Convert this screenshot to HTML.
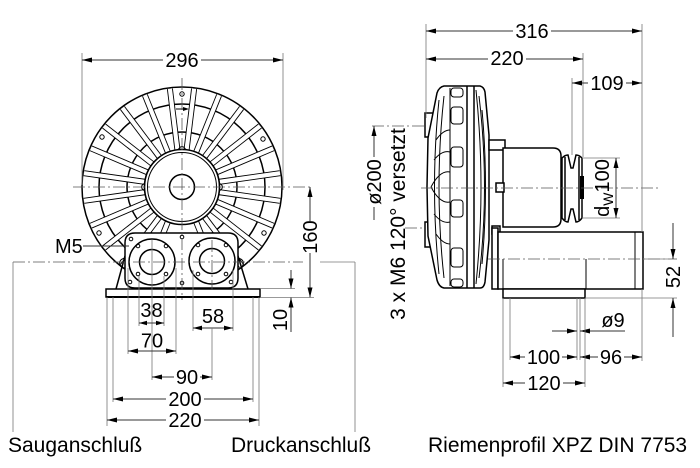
<!DOCTYPE html>
<html><head><meta charset="utf-8">
<style>
html,body{margin:0;padding:0;background:#fff;}
svg{display:block;}
.o{stroke:#000;stroke-width:1.5;fill:none}
.f{stroke:#000;stroke-width:1.5;fill:#fff}
.t{stroke:#000;stroke-width:1;fill:none}
.d{stroke:#333;stroke-width:1;fill:none}
.e{stroke:#777;stroke-width:0.8;fill:none}
.c{stroke:#555;stroke-width:0.8;stroke-dasharray:12 3 2 3;fill:none}
.a{fill:#000;stroke:none}
text{font-family:"Liberation Sans",Arial,sans-serif;font-size:20px;fill:#000}
.lb{font-size:21px}
</style></head>
<body>
<svg width="700" height="468" viewBox="0 0 700 468" xmlns="http://www.w3.org/2000/svg">
<defs>
<g id="ribs">
<line x1="218.6" y1="181.9" x2="280" y2="173.2"/>
<line x1="216.1" y1="172.5" x2="273.2" y2="148.3"/>
<line x1="211.2" y1="164.2" x2="260" y2="126"/>
<line x1="204.3" y1="157.4" x2="241.6" y2="107.9"/>
<line x1="195.9" y1="152.7" x2="219.1" y2="95.2"/>
<line x1="186.5" y1="150.3" x2="194.1" y2="88.7"/>
<line x1="177.5" y1="150.3" x2="169.9" y2="88.7"/>
<line x1="168.1" y1="152.7" x2="144.9" y2="95.2"/>
<line x1="159.7" y1="157.4" x2="122.4" y2="107.9"/>
<line x1="152.8" y1="164.2" x2="104" y2="126"/>
<line x1="147.9" y1="172.5" x2="90.8" y2="148.3"/>
<line x1="145.4" y1="181.9" x2="84" y2="173.2"/>
<line x1="145.4" y1="192.1" x2="84" y2="200.8"/>
<line x1="147.9" y1="201.5" x2="90.8" y2="225.7"/>
<line x1="152.8" y1="209.8" x2="104" y2="248"/>
<line x1="159.7" y1="216.6" x2="122.4" y2="266.1"/>
<line x1="168.1" y1="221.3" x2="144.9" y2="278.8"/>
<line x1="218.6" y1="192.1" x2="280" y2="200.8"/>
<line x1="216.1" y1="201.5" x2="273.2" y2="225.7"/>
<line x1="211.2" y1="209.8" x2="260" y2="248"/>
<line x1="204.3" y1="216.6" x2="241.6" y2="266.1"/>
<line x1="195.9" y1="221.3" x2="219.1" y2="278.8"/>
</g>
</defs>

<!-- ================= LEFT VIEW ================= -->
<circle cx="182" cy="187" r="100" fill="#fff"/>
<circle cx="182" cy="187" r="83" class="o" stroke-width="1.1"/>
<circle cx="182" cy="187" r="55" class="o" stroke-width="1.1"/>
<use href="#ribs" stroke="#000" stroke-width="6"/>
<use href="#ribs" stroke="#fff" stroke-width="4.2"/>
<circle cx="182" cy="187" r="37.5" fill="#fff" stroke="#000" stroke-width="1.6"/>
<circle cx="182" cy="187" r="34.5" class="t"/>
<circle cx="182" cy="187" r="12.5" class="o" stroke-width="1.3"/>
<circle cx="182" cy="187" r="100" class="o" stroke-width="1.8"/>
<!-- notches -->
<path d="M145,183 Q138,187 145,191" class="t"/>
<path d="M219,183 Q226,187 219,191" class="t"/>
<path d="M178,150 Q182,143 186,150" class="t"/>
<!-- bolt holes -->
<g class="t">
<circle cx="182" cy="94" r="2.2"/>
<circle cx="102" cy="137" r="2.2"/>
<circle cx="263" cy="139" r="2.2"/>
<circle cx="99" cy="233" r="2.2"/>
<circle cx="264" cy="233" r="2.2"/>
</g>
<!-- rotation arrow -->
<line x1="176" y1="109" x2="186" y2="109" class="t"/>
<polygon points="189,109 183,107 183,111" class="a"/>

<!-- feet & base -->
<path d="M125,256 L116,289" class="o"/>
<path d="M238,256 L248,289" class="o"/>
<path d="M125,258 Q117,260 121,267" class="t"/>
<path d="M238,258 Q246,260 242,267" class="t"/>
<rect x="106" y="289" width="154" height="8" class="f"/>
<line x1="106" y1="297" x2="260" y2="297" stroke="#000" stroke-width="2"/>
<!-- port block -->
<path d="M135,233 L228,233 Q238,233 238,243 L238,278 Q238,288 228,288 L135,288 Q125,288 125,278 L125,243 Q125,233 135,233 Z" class="f" stroke-width="1.6"/>
<circle cx="152" cy="262" r="23" class="o" stroke-width="1.2"/>
<circle cx="152" cy="262" r="12.5" class="o" stroke-width="1.3"/>
<circle cx="212" cy="261" r="23" class="o" stroke-width="1.2"/>
<circle cx="212" cy="261" r="12.5" class="o" stroke-width="1.3"/>
<g class="t">
<circle cx="138" cy="246" r="1.8"/><circle cx="166" cy="246" r="1.8"/>
<circle cx="138" cy="274" r="1.8"/><circle cx="166" cy="274" r="1.8"/>
<circle cx="198" cy="245" r="1.8"/><circle cx="226" cy="245" r="1.8"/>
<circle cx="198" cy="274" r="1.8"/><circle cx="226" cy="274" r="1.8"/>
<circle cx="131" cy="239" r="1.8"/><circle cx="130" cy="282" r="1.8"/>
<circle cx="231" cy="282" r="1.8"/>
<circle cx="182" cy="237" r="1.8"/><circle cx="182" cy="283" r="1.8"/>
</g>

<!-- centerlines -->
<line x1="182" y1="78" x2="182" y2="300" class="c"/>
<line x1="73" y1="187" x2="313" y2="187" class="c"/>
<line x1="13" y1="262" x2="303" y2="262" class="c"/>
<line x1="320" y1="262" x2="355" y2="262" class="e"/>
<line x1="152" y1="240" x2="152" y2="380" class="e"/>
<line x1="212" y1="240" x2="212" y2="290" class="c"/>

<!-- leaders for labels -->
<line x1="13" y1="262" x2="13" y2="432" class="e"/>
<line x1="355" y1="262" x2="355" y2="432" class="e"/>

<!-- 296 -->
<line x1="82" y1="53" x2="82" y2="185" class="e"/>
<line x1="283" y1="53" x2="283" y2="190" class="e"/>
<line x1="82" y1="60" x2="163" y2="60" class="d"/>
<line x1="201" y1="60" x2="283" y2="60" class="d"/>
<polygon points="82,60 92,57.5 92,62.5" class="a"/>
<polygon points="283,60 273,57.5 273,62.5" class="a"/>
<text x="182" y="67" text-anchor="middle">296</text>

<!-- M5 -->
<text x="55" y="253">M5</text>
<line x1="83" y1="246" x2="129" y2="246" class="d"/>

<!-- 160 -->
<line x1="310" y1="187" x2="310" y2="221" class="d"/>
<line x1="310" y1="253" x2="310" y2="297.5" class="d"/>
<polygon points="310,187 307.5,197 312.5,197" class="a"/>
<polygon points="310,297.5 307.5,287.5 312.5,287.5" class="a"/>
<line x1="260" y1="297.5" x2="314" y2="297.5" class="e"/>
<text transform="translate(317,237) rotate(-90)" text-anchor="middle">160</text>

<!-- 10 -->
<line x1="260" y1="288.5" x2="295" y2="288.5" class="e"/>
<line x1="291" y1="270" x2="291" y2="288.5" class="d"/>
<line x1="291" y1="297.5" x2="291" y2="332" class="d"/>
<polygon points="291,288.5 288.5,278.5 293.5,278.5" class="a"/>
<polygon points="291,297.5 288.5,307.5 293.5,307.5" class="a"/>
<text transform="translate(287,320) rotate(-90)" text-anchor="middle">10</text>

<!-- 38 -->
<line x1="139" y1="276" x2="139" y2="326" class="e"/>
<line x1="164" y1="276" x2="164" y2="326" class="e"/>
<line x1="139" y1="323" x2="164" y2="323" class="d"/>
<polygon points="139,323 147,320.8 147,325.2" class="a"/>
<polygon points="164,323 156,320.8 156,325.2" class="a"/>
<text x="151.5" y="317" text-anchor="middle">38</text>

<!-- 58 -->
<line x1="193" y1="270" x2="193" y2="331" class="e"/>
<line x1="233" y1="270" x2="233" y2="331" class="e"/>
<line x1="193" y1="328" x2="233" y2="328" class="d"/>
<polygon points="193,328 202,325.6 202,330.4" class="a"/>
<polygon points="233,328 224,325.6 224,330.4" class="a"/>
<text x="213" y="323" text-anchor="middle">58</text>

<!-- 70 -->
<line x1="128" y1="268" x2="128" y2="354" class="e"/>
<line x1="176" y1="268" x2="176" y2="354" class="e"/>
<line x1="128" y1="351" x2="176" y2="351" class="d"/>
<polygon points="128,351 138,348.5 138,353.5" class="a"/>
<polygon points="176,351 166,348.5 166,353.5" class="a"/>
<text x="152" y="347.5" text-anchor="middle">70</text>

<!-- 90 -->
<line x1="212" y1="328" x2="212" y2="380" class="e"/>
<line x1="152" y1="377" x2="174" y2="377" class="d"/>
<line x1="200" y1="377" x2="212" y2="377" class="d"/>
<polygon points="152,377 162,374.5 162,379.5" class="a"/>
<polygon points="212,377 202,374.5 202,379.5" class="a"/>
<text x="187" y="384" text-anchor="middle">90</text>

<!-- 200 -->
<line x1="113" y1="297" x2="113" y2="402" class="e"/>
<line x1="253" y1="297" x2="253" y2="402" class="e"/>
<line x1="113" y1="399" x2="166" y2="399" class="d"/>
<line x1="204" y1="399" x2="253" y2="399" class="d"/>
<polygon points="113,399 123,396.5 123,401.5" class="a"/>
<polygon points="253,399 243,396.5 243,401.5" class="a"/>
<text x="185" y="406" text-anchor="middle">200</text>

<!-- 220 -->
<line x1="107" y1="297" x2="107" y2="426" class="e"/>
<line x1="259" y1="297" x2="259" y2="426" class="e"/>
<line x1="107" y1="420" x2="166" y2="420" class="d"/>
<line x1="204" y1="420" x2="259" y2="420" class="d"/>
<polygon points="107,420 117,417.5 117,422.5" class="a"/>
<polygon points="259,420 249,417.5 249,422.5" class="a"/>
<text x="185" y="427" text-anchor="middle">220</text>

<text x="8" y="452" class="lb">Sauganschluß</text>
<text x="231" y="452" class="lb">Druckanschluß</text>

<!-- ================= SIDE VIEW ================= -->
<!-- centerlines -->
<line x1="372" y1="126" x2="432" y2="126" class="c"/>
<line x1="405" y1="228" x2="432" y2="228" class="c"/>

<!-- bosses -->
<rect x="425" y="113" width="9" height="24" class="f" stroke-width="1.4"/>
<rect x="425" y="222" width="9" height="25" class="f" stroke-width="1.4"/>

<!-- housing -->
<path d="M444,86 L480,86 Q484,87 485,92 L489,135 L489,240 L485,282 Q484,288 480,288 L444,288 Q439,287 437,280 L428,236 L427,187 L428,138 L437,93 Q439,87 444,86 Z" class="f" stroke-width="1.7"/>
<line x1="450" y1="88" x2="450" y2="286" class="t"/>
<line x1="467" y1="86" x2="467" y2="288" class="o" stroke-width="1.3"/>
<line x1="474" y1="86" x2="474" y2="288" class="o" stroke-width="1.3"/>
<g class="t">
<rect x="451" y="88" width="12" height="9" rx="3"/>
<rect x="451" y="107" width="12" height="17" rx="3"/>
<rect x="451" y="147" width="12" height="20" rx="3"/>
<rect x="451" y="200" width="12" height="17" rx="3"/>
<rect x="451" y="248" width="12" height="19" rx="3"/>
<rect x="451" y="279" width="12" height="8" rx="3"/>
<path d="M439,100 Q430,187 439,274"/>
<path d="M444,96 Q434,187 444,278"/>
<path d="M431,187 Q440,170 450,172"/>
<path d="M431,187 Q440,204 450,202"/>
<path d="M434,160 Q442,150 450,152"/>
<path d="M434,214 Q442,224 450,222"/>
<path d="M436,140 Q443,130 450,130"/>
<path d="M436,234 Q443,244 450,244"/>
<path d="M476,90 Q486,187 476,284"/>
<path d="M479,96 Q490,187 479,278"/>
<path d="M482,110 Q489,187 482,264"/>
</g>

<!-- motor -->
<rect x="489" y="140" width="16" height="10" class="f" stroke-width="1.3"/>
<rect x="492" y="226" width="8" height="8" class="f" stroke-width="1.2"/>
<path d="M503,148 L553,148 Q561,148 561,156 L561,219 Q561,227 553,227 L503,227 Z" class="f"/>
<rect x="496" y="183" width="8" height="9" class="f" stroke-width="1.2"/>

<!-- pulley -->
<path d="M562,158 Q565,155 568,155 L571,168 L573,168 L576,155 Q579,155 582,158 L582,218 Q579,222 576,222 L573,209 L571,209 L568,222 Q565,222 562,218 Z" class="f" stroke-width="1.8"/>
<line x1="565" y1="157" x2="565" y2="220" class="o" stroke-width="1.5"/>
<line x1="579" y1="157" x2="579" y2="220" class="o" stroke-width="1.5"/>
<rect x="580" y="176" width="4" height="23" fill="#000"/>

<!-- shaft centerline -->
<line x1="421" y1="188" x2="660" y2="188" class="c"/>

<!-- pipe & base -->
<rect x="492" y="228" width="6" height="61" class="f" stroke-width="1.3"/>
<rect x="498" y="232" width="145" height="57" class="f" stroke-width="1.7"/>
<line x1="635" y1="232" x2="635" y2="289" class="t"/>
<rect x="503" y="289" width="82" height="9" class="f" stroke-width="1.4"/>
<line x1="503" y1="259" x2="503" y2="289" class="t"/>
<line x1="586" y1="259" x2="586" y2="289" class="t"/>
<line x1="488" y1="259" x2="677" y2="259" class="c"/>

<!-- 316 -->
<line x1="426" y1="24" x2="426" y2="118" class="e"/>
<line x1="642" y1="24" x2="642" y2="232" class="e"/>
<line x1="426" y1="31" x2="513" y2="31" class="d"/>
<line x1="551" y1="31" x2="642" y2="31" class="d"/>
<polygon points="426,31 436,28.5 436,33.5" class="a"/>
<polygon points="642,31 632,28.5 632,33.5" class="a"/>
<text x="532" y="38" text-anchor="middle">316</text>

<!-- 220 side -->
<line x1="583" y1="53" x2="583" y2="157" class="e"/>
<line x1="426" y1="59" x2="488" y2="59" class="d"/>
<line x1="526" y1="59" x2="583" y2="59" class="d"/>
<polygon points="426,59 436,56.5 436,61.5" class="a"/>
<polygon points="583,59 573,56.5 573,61.5" class="a"/>
<text x="507" y="65" text-anchor="middle">220</text>

<!-- 109 -->
<line x1="572" y1="78" x2="572" y2="155" class="e"/>
<line x1="572" y1="83" x2="588" y2="83" class="d"/>
<line x1="626" y1="83" x2="642" y2="83" class="d"/>
<polygon points="572,83 582,80.5 582,85.5" class="a"/>
<polygon points="642,83 632,80.5 632,85.5" class="a"/>
<text x="607" y="90" text-anchor="middle">109</text>

<!-- dw100 -->
<line x1="582" y1="158" x2="620" y2="158" class="e"/>
<line x1="582" y1="218" x2="620" y2="218" class="e"/>
<line x1="616" y1="158" x2="616" y2="218" class="d"/>
<polygon points="616,158 613.5,168 618.5,168" class="a"/>
<polygon points="616,218 613.5,208 618.5,208" class="a"/>
<text transform="translate(609,188) rotate(-90)" text-anchor="middle">d<tspan font-size="14" dy="4">W</tspan><tspan dy="-4">100</tspan></text>

<!-- ø200 / 3 x M6 -->
<line x1="374" y1="126" x2="374" y2="157" class="d"/>
<line x1="374" y1="207" x2="374" y2="220" class="d"/>
<polygon points="374,126 371.5,136 376.5,136" class="a"/>
<text transform="translate(381,182) rotate(-90)" text-anchor="middle">ø200</text>
<text transform="translate(405,224) rotate(-90)" text-anchor="middle" class="lb">3 x M6 120° versetzt</text>

<!-- 52 -->
<line x1="643" y1="259" x2="677" y2="259" class="e"/>
<line x1="585" y1="298" x2="677" y2="298" class="e"/>
<line x1="673" y1="223" x2="673" y2="259" class="d"/>
<line x1="673" y1="298" x2="673" y2="337" class="d"/>
<polygon points="673,259 670.5,249 675.5,249" class="a"/>
<polygon points="673,298 670.5,308 675.5,308" class="a"/>
<text transform="translate(680,277) rotate(-90)" text-anchor="middle">52</text>

<!-- ø9 -->
<line x1="577" y1="298" x2="577" y2="360" class="e"/>
<line x1="580" y1="298" x2="580" y2="360" class="e"/>
<line x1="552" y1="331" x2="577" y2="331" class="d"/>
<line x1="580" y1="331" x2="625" y2="331" class="d"/>
<polygon points="577,331 567,328.5 567,333.5" class="a"/>
<polygon points="580,331 590,328.5 590,333.5" class="a"/>
<text x="613" y="327" text-anchor="middle">ø9</text>

<!-- 100 / 96 -->
<line x1="510" y1="298" x2="510" y2="360" class="e"/>
<line x1="642" y1="289" x2="642" y2="361" class="e"/>
<line x1="510" y1="357" x2="525" y2="357" class="d"/>
<line x1="562" y1="357" x2="577" y2="357" class="d"/>
<polygon points="510,357 520,354.5 520,359.5" class="a"/>
<polygon points="577,357 567,354.5 567,359.5" class="a"/>
<text x="543.5" y="364" text-anchor="middle">100</text>
<line x1="580" y1="357" x2="598" y2="357" class="d"/>
<line x1="624" y1="357" x2="642" y2="357" class="d"/>
<polygon points="580,357 590,354.5 590,359.5" class="a"/>
<polygon points="642,357 632,354.5 632,359.5" class="a"/>
<text x="611" y="364" text-anchor="middle">96</text>

<!-- 120 -->
<line x1="503" y1="298" x2="503" y2="387" class="e"/>
<line x1="585" y1="298" x2="585" y2="387" class="e"/>
<line x1="503" y1="383" x2="525" y2="383" class="d"/>
<line x1="563" y1="383" x2="585" y2="383" class="d"/>
<polygon points="503,383 513,380.5 513,385.5" class="a"/>
<polygon points="585,383 575,380.5 575,385.5" class="a"/>
<text x="544" y="390" text-anchor="middle">120</text>

<text x="428" y="452" class="lb">Riemenprofil XPZ DIN 7753</text>
</svg>
</body></html>
